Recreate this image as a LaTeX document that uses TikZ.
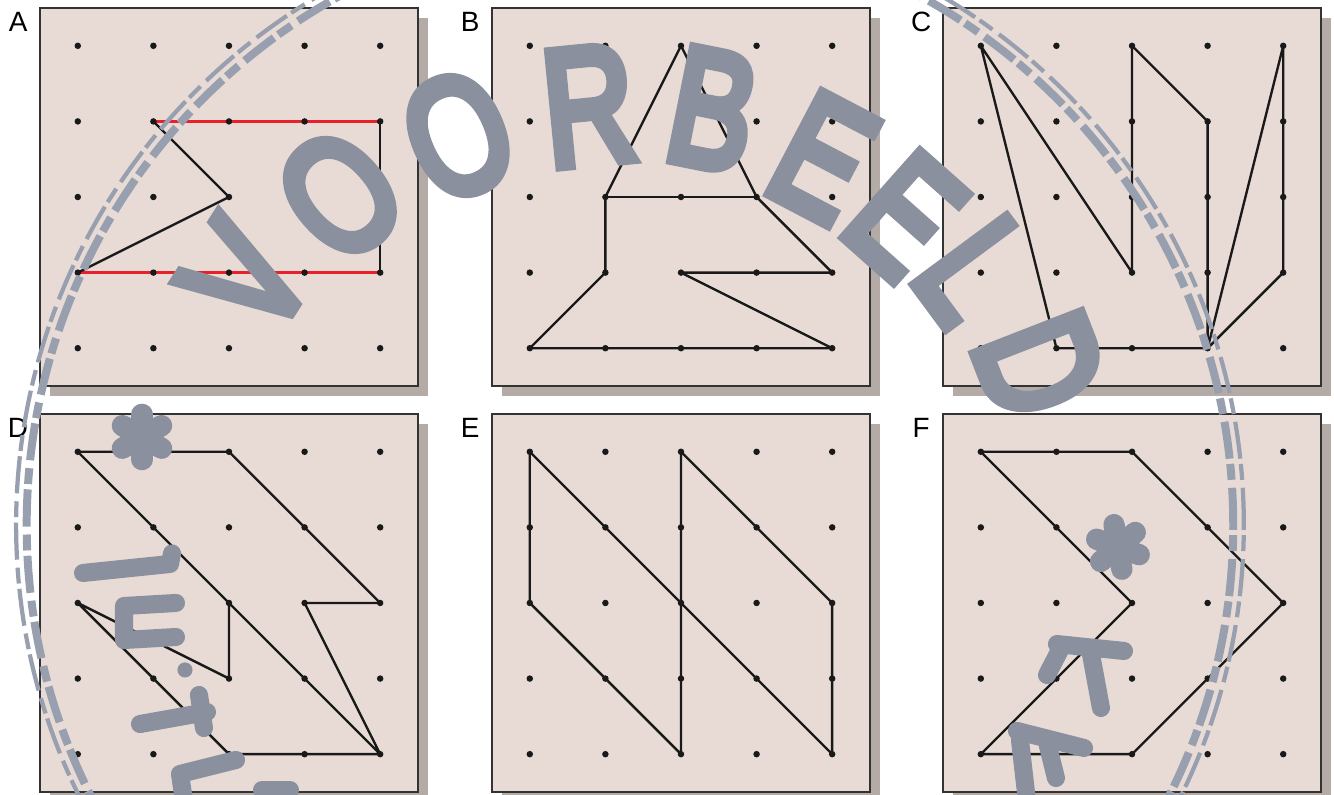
\documentclass[tikz,border=0pt]{standalone}
\usepackage{fontspec}
\newfontfamily\tagfont{Liberation Sans}
\newfontfamily\sealfont[FakeBold=7]{Liberation Sans}

\definecolor{boardfill}{HTML}{E8DBD6}
\definecolor{boardshadow}{HTML}{B4AAA6}
\definecolor{inkgrey}{HTML}{8A909D}
\definecolor{ringgrey}{HTML}{98A0B0}
\definecolor{penred}{HTML}{E8202A}

\begin{document}
\begin{tikzpicture}[
  board/.style={fill=boardfill, draw=black!80, line width=0.55pt},
  dropshadow/.style={fill=boardshadow},
  panellabel/.style={font=\tagfont\fontsize{10.5}{12}\selectfont, inner sep=0pt},
  pin/.style={fill=black!90},
  rope/.style={line width=0.9pt, black!90, line join=round},
  redrope/.style={line width=1pt, penred},
  seal/.style={inkgrey, font=\sealfont\fontsize{62}{62}\selectfont, inner sep=0pt},
  sealstroke/.style={inkgrey, line width=8pt, line cap=round, line join=round},
  scrawl/.style={inkgrey, line width=6.8pt, line cap=round, line join=round},
  ring/.style={ringgrey, line width=3pt, dash pattern=on 14pt off 3pt on 6pt off 2pt}
]
\useasboundingbox (0,0) rectangle (17.646,-10.516);

% Boards with shadow, label and 5x5 pins
\foreach \p/\x/\y in {A/0.529/-0.106, B/6.508/-0.106, C/12.474/-0.106,
                      D/0.529/-5.476, E/6.508/-5.476, F/12.474/-5.476} {
  \fill[dropshadow] (\x+0.132,\y-0.132) rectangle ++(5,-5);
  \draw[board] (\x,\y) rectangle ++(5,-5);
  \node[panellabel] (label-\p) at (\x-0.29,\y-0.19) {\p};
  \foreach \i in {0,...,4}
    \foreach \j in {0,...,4}
      \coordinate (\p-\i-\j) at (\x+0.5+\i,\y-0.5-\j);
}

% A
\draw[redrope] (A-1-1) -- (A-4-1);
\draw[redrope] (A-4-3) -- (A-0-3);
\draw[rope] (A-4-1) -- (A-4-3);
\draw[rope] (A-0-3) -- (A-2-2) -- (A-1-1);

% B
\draw[rope] (B-2-0) -- (B-3-2) -- (B-4-3) -- (B-2-3) -- (B-4-4) -- (B-0-4)
  -- (B-1-3) -- (B-1-2) -- cycle;
\draw[rope] (B-1-2) -- (B-3-2);

% C
\draw[rope] (C-1-4) -- (C-0-0) -- (C-2-3) -- (C-2-0) -- (C-3-1) -- (C-3-4)
  -- (C-4-0) -- (C-4-3) -- (C-3-4) -- (C-1-4);

% D
\draw[rope] (D-2-2) -- (D-0-0) -- (D-2-0) -- (D-4-2) -- (D-3-2) -- (D-4-4)
  -- (D-2-2) -- (D-2-3) -- (D-0-2) -- (D-2-4) -- (D-4-4);

% E
\draw[rope] (E-0-0) -- (E-0-2) -- (E-2-4) -- (E-2-0) -- (E-4-2) -- (E-4-4) -- cycle;

% F
\draw[rope] (F-0-0) -- (F-2-0) -- (F-4-2) -- (F-2-4) -- (F-0-4) -- (F-2-2) -- cycle;

% Pins on top of the ropes
\foreach \p in {A,B,C,D,E,F}
  \foreach \i in {0,...,4}
    \foreach \j in {0,...,4}
      \fill[pin] (\p-\i-\j) circle (0.043);

% Stamp: worn ring
\coordinate (hub) at (8.333,-6.944);
\begin{scope}
  \clip (0,0) rectangle (17.646,-10.516);
  \draw[ring] (hub) circle (7.98);
  \draw[ring, line width=1.6pt] (hub) circle (8.12);
\end{scope}

% Stamp: top text along the arc
\foreach \ch/\ang/\rad [count=\k] in {V/147.3/6.05, O/131.3/5.81, O/113.8/5.63,
    R/95.6/5.57, B/78.7/5.60, E/62.3/5.49, E/48.4/5.48, L/36.5/5.67, D/21.3/5.82}
  \node[seal, rotate=\ang-90] (seal-\k) at ([shift={(\ang:\rad)}]hub) {\scalebox{0.76}[1]{\ch}};

% Stamp: stars
\coordinate (starL) at (1.878,-5.78);
\coordinate (starR) at (14.788,-7.235);
\foreach \a in {30,90,150} {
  \draw[sealstroke] ([shift={(\a:0.3)}]starL) -- ([shift={(\a+180:0.3)}]starL);
  \draw[sealstroke] ([shift={(\a+10:0.3)}]starR) -- ([shift={(\a+190:0.3)}]starR);
}

% Stamp: worn bottom text, left
\draw[scrawl] (1.098,-7.579) -- (2.249,-7.460) -- (2.275,-7.32);
\draw[scrawl] (2.328,-7.976) -- (1.640,-8.016) -- (1.640,-8.466) -- (2.328,-8.426);
\fill[inkgrey] (2.447,-8.862) circle (0.1);
\draw[scrawl] (1.852,-9.577) -- (2.738,-9.418);
\draw[scrawl] (2.632,-9.193) -- (2.698,-9.630);
\draw[scrawl] (3.122,-10.053) -- (2.381,-10.238) -- (2.434,-10.6);
\draw[scrawl] (3.466,-10.45) -- (3.836,-10.45);

% Stamp: worn bottom text, right
\draw[scrawl] (13.981,-8.519) -- (14.868,-8.611);
\draw[scrawl] (14.034,-8.571) -- (13.849,-8.929);
\draw[scrawl] (14.431,-8.651) -- (14.563,-9.365);
\draw[scrawl] (13.452,-9.669) -- (14.339,-9.894);
\draw[scrawl] (13.492,-9.788) -- (13.585,-10.6);
\draw[scrawl] (13.862,-9.868) -- (13.968,-10.291);
\end{tikzpicture}
\end{document}
